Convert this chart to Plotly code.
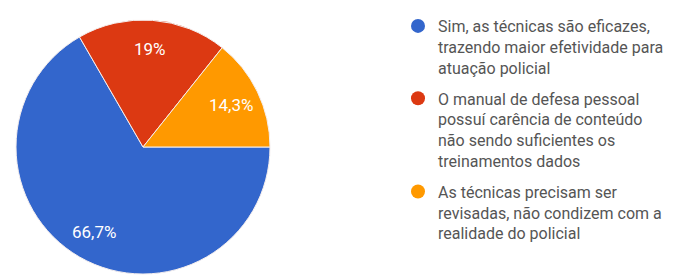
import math
import plotly.graph_objects as go

labels = [
    "Sim, as técnicas são eficazes,<br>trazendo maior efetividade para<br>atuação policial",
    "O manual de defesa pessoal<br>possuí carência de conteúdo<br>não sendo suficientes os<br>treinamentos dados",
    "As técnicas precisam ser<br>revisadas, não condizem com a<br>realidade do policial",
]
values = [14, 4, 3]
pct_text = ["66,7%", "19%", "14,3%"]
colors = ["#3366cc", "#dc3912", "#ff9900"]

OFF = 8  # default body margin of the page
W, H = 683 - OFF, 278 - OFF
cx, cy, r = 143 - OFF, 147 - OFF, 127
ROT = 90  # first slice starts at 3 o'clock, clockwise
LABEL_R = 0.77  # labels placed along each slice's mid-angle

fig = go.Figure()
fig.add_trace(go.Pie(
    labels=labels, values=values, text=pct_text,
    textinfo="none", hoverinfo="label+text",
    sort=False, direction="clockwise", rotation=ROT,
    marker=dict(colors=colors, line=dict(color="#f4eeee", width=1)),
    showlegend=False,
    domain=dict(x=[(cx - r) / W, (cx + r) / W], y=[(H - cy - r) / H, (H - cy + r) / H]),
))

# slice labels along mid-angles, derived from the values
total = sum(values)
start = ROT
for v, t in zip(values, pct_text):
    mid = math.radians(start + 360 * v / total / 2)
    start += 360 * v / total
    px = cx + LABEL_R * r * math.sin(mid)
    py = cy - LABEL_R * r * math.cos(mid)
    fig.add_annotation(
        x=px / W, y=1 - py / H, xref="paper", yref="paper",
        xanchor="center", yanchor="middle",
        text=t, showarrow=False,
        font=dict(color="white", size=17, family="Roboto"),
    )

for lab, col in zip(labels, colors):
    fig.add_trace(go.Scatter(
        x=[None], y=[None], mode="markers", name=lab,
        marker=dict(color=col, size=14, symbol="circle"),
        legendgroup=lab, showlegend=True,
    ))

fig.update_layout(
    width=W, height=H,
    margin=dict(l=0, r=0, t=0, b=0),
    paper_bgcolor="white", plot_bgcolor="white",
    xaxis=dict(visible=False), yaxis=dict(visible=False),
    legend=dict(
        x=(398 - OFF) / W, y=1 - 1 / H, xanchor="left", yanchor="top",
        font=dict(family="Roboto", size=16, color="#555555"),
        tracegroupgap=7, itemwidth=30, valign="top",
        bgcolor="rgba(0,0,0,0)",
    ),
)
fig.write_html("out.html")
